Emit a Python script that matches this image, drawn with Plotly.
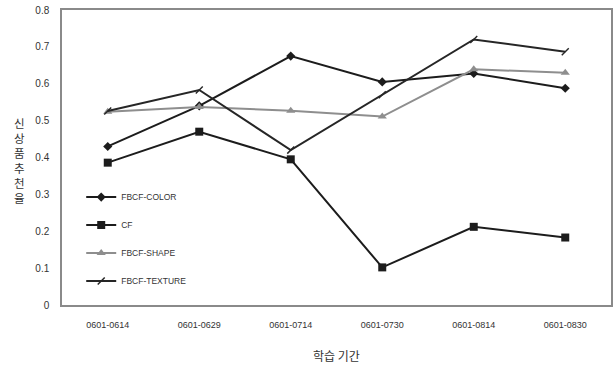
import plotly.graph_objects as go

categories = ["0601-0614", "0601-0629", "0601-0714", "0601-0730", "0601-0814", "0601-0830"]
fbcf_color = [0.43, 0.54, 0.675, 0.605, 0.628, 0.588]
cf = [0.386, 0.47, 0.395, 0.102, 0.212, 0.183]
fbcf_shape = [0.524, 0.537, 0.527, 0.511, 0.639, 0.630]
fbcf_texture = [0.526, 0.583, 0.42, 0.57, 0.72, 0.687]
y_ticks = [0, 0.1, 0.2, 0.3, 0.4, 0.5, 0.6, 0.7, 0.8]
y_ticktext = ["0", "0.1", "0.2", "0.3", "0.4", "0.5", "0.6", "0.7", "0.8"]

series = [
    ("FBCF-COLOR", fbcf_color, "#1c1c1c", dict(symbol="diamond", size=7)),
    ("CF", cf, "#1c1c1c", dict(symbol="square", size=8)),
    ("FBCF-SHAPE", fbcf_shape, "#8e8e8e", dict(symbol="triangle-up", size=8)),
    ("FBCF-TEXTURE", fbcf_texture, "#262626", dict(symbol="line-ne", size=7, line=dict(width=1.5, color="#262626"))),
]

fig = go.Figure()
for i, (name, vals, col, mk) in enumerate(series):
    m = dict(color=col, **mk)
    fig.add_trace(go.Scatter(
        x=categories, y=vals, name=name, mode="lines+markers",
        line=dict(color=col, width=2), marker=m, legendgroup=f"g{i}",
    ))

fig.update_layout(
    width=616, height=367,
    margin=dict(l=62, r=3, t=10, b=62),
    paper_bgcolor="white", plot_bgcolor="white",
    font=dict(family="Liberation Sans, Arial, sans-serif", color="#333"),
    showlegend=True,
    legend=dict(
        x=0.035, y=0.415, xanchor="left", yanchor="top",
        bgcolor="rgba(0,0,0,0)", font=dict(size=8.5, color="#333"),
        tracegroupgap=9, itemwidth=30,
    ),
    xaxis=dict(
        type="category", showgrid=False, zeroline=False,
        showline=True, linecolor="#8a8a8a", linewidth=1.5, mirror=True,
        ticks="outside", ticklen=10, tickcolor="rgba(0,0,0,0)",
        tickfont=dict(size=9, color="#333"),
        range=[-0.5, 5.5],
    ),
    yaxis=dict(
        range=[0, 0.8], tickvals=y_ticks, ticktext=y_ticktext,
        showgrid=False, zeroline=False,
        showline=True, linecolor="#8a8a8a", linewidth=1.5, mirror=True,
        ticks="outside", ticklen=9, tickcolor="rgba(0,0,0,0)",
        tickfont=dict(size=10, color="#333"),
    ),
    annotations=[
        dict(text="학습 기간", xref="paper", yref="paper", x=0.5, y=-0.17,
             xanchor="center", yanchor="middle", showarrow=False,
             font=dict(family="Noto Sans CJK KR", size=12, color="#333")),
        dict(text="신<br>상<br>품<br>추<br>천<br>율", xref="paper", yref="paper",
             x=-0.078, y=0.49, xanchor="center", yanchor="middle", showarrow=False,
             font=dict(family="Noto Sans CJK KR", size=11.5, color="#333")),
    ],
)

fig.write_html("out.html", config={"displayModeBar": False},
               post_script="document.body.style.margin='0px';")
